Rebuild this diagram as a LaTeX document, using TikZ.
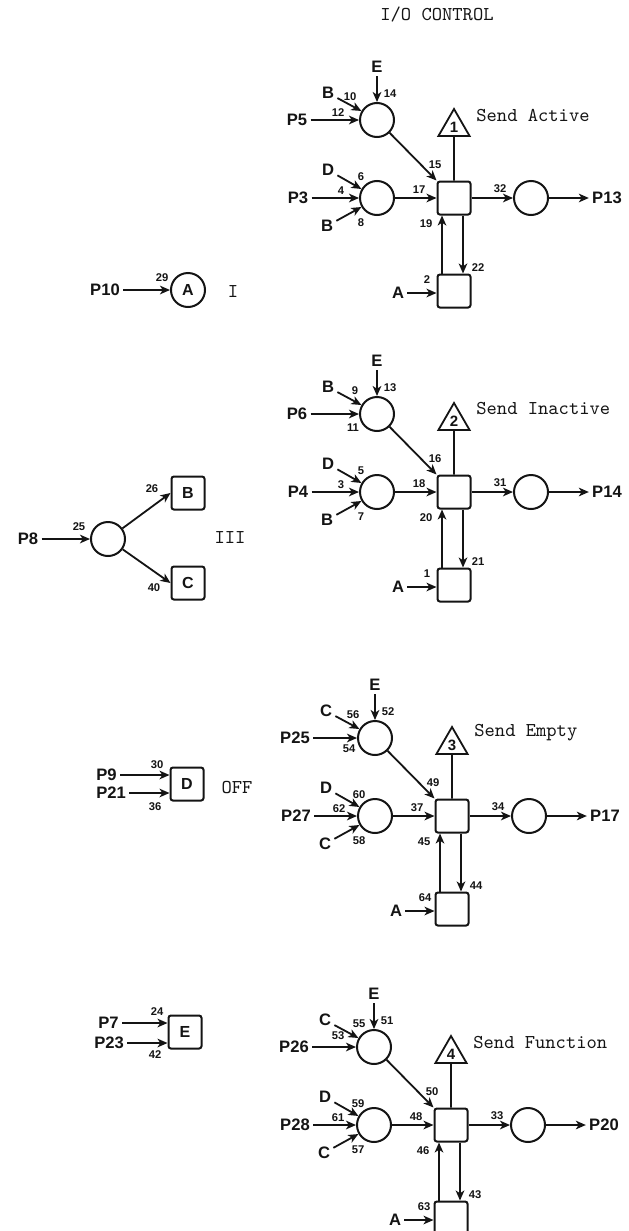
\documentclass[tikz,border=0pt]{standalone}
\usepackage{fontspec}
\setsansfont{Liberation Sans}
\usepackage{tikz}
\usetikzlibrary{arrows.meta,shapes.geometric}
\definecolor{ink}{HTML}{141414}
\definecolor{paper}{HTML}{FFFFFF}

\tikzset{
  place/.style={circle,draw=ink,line width=1pt,minimum size=17pt,inner sep=0pt,text=ink,font=\sffamily\bfseries\fontsize{8}{8}\selectfont},
  trans/.style={rectangle,draw=ink,line width=1pt,rounded corners=1.2pt,minimum size=16.5pt,inner sep=0pt,text=ink,font=\sffamily\bfseries\fontsize{8}{8}\selectfont},
  flag/.style={regular polygon,regular polygon sides=3,draw=ink,line width=0.9pt,minimum size=18pt,inner sep=0pt,text=ink,font=\sffamily\bfseries\fontsize{7.5}{7.5}\selectfont},
  lbl/.style={inner sep=1.5pt,text=ink,font=\sffamily\bfseries\fontsize{8.3}{8.3}\selectfont},
  num/.style={inner sep=0pt,text=ink,font=\sffamily\bfseries\fontsize{5.6}{5.6}\selectfont},
  typed/.style={inner sep=0pt,text=ink,font=\ttfamily\fontsize{9.8}{9.8}\selectfont},
  flow/.style={draw=ink,line width=0.9pt,-{Stealth[length=5pt,width=4.3pt,inset=1.4pt]}},
  wire/.style={draw=ink,line width=0.9pt}
}

\begin{document}
\begin{tikzpicture}[x=0.5pt,y=-0.5pt]
  \fill[paper] (0,0) rectangle (628,1231);
  \useasboundingbox (0,0) rectangle (628,1231);
  \node[typed] (head) at (437,15) {I/O CONTROL};
  \foreach \x/\y/\k/\ttl/\pup/\plo/\pout/\upr/\lwr/\nlu/\nxl/\npu/\nxu/\nyu/\nE/\nD/\npl/\nll/\nin/\ndg/\nout/\nup/\ndn/\nA in {
      454/198/1/Send Active/P5/P3/P13/B/B/10/-104/12/-116/-85/14/6/4/8/17/15/32/19/22/2,
      454/492/2/Send Inactive/P6/P4/P14/B/B/9/-99/11/-101/-64/13/5/3/7/18/16/31/20/21/1,
      452/816/3/Send Empty/P25/P27/P17/C/C/56/-99/54/-103/-67/52/60/62/58/37/49/34/45/44/64,
      451/1125/4/Send Function/P26/P28/P20/C/C/55/-92/53/-113/-89/51/59/61/57/48/50/33/46/43/63}{
    \begin{scope}[shift={(\x,\y)}]
      \node[trans] (sq\k) at (0,0) {};
      \node[place] (cu\k) at (-77,-78) {};
      \node[place] (cl\k) at (-77,0) {};
      \node[place] (co\k) at (77,0) {};
      \node[flag] (tri\k) at (0,-71) {\k};
      \node[trans] (bq\k) at (0,93) {};
      \node[typed,anchor=west] (ttl\k) at (22,-83) {\ttl};
      \node[lbl] (E\k) at (-77,-131) {E};
      \node[lbl] (pu\k) at (-157,-78) {\pup};
      \node[lbl] (up\k) at (-126,-105) {\upr};
      \node[lbl] (D\k) at (-126,-28) {D};
      \node[lbl] (pl\k) at (-156,0) {\plo};
      \node[lbl] (lw\k) at (-127,28) {\lwr};
      \node[lbl] (A\k) at (-56,95) {A};
      \node[lbl] (po\k) at (153,0) {\pout};
      \node[num] (n\nlu) at (\nxl,-101) {\nlu};
      \node[num] (n\npu) at (\nxu,\nyu) {\npu};
      \node[num] (n\nE) at (-64,-104) {\nE};
      \node[num] (n\nD) at (-93,-21) {\nD};
      \node[num] (n\npl) at (-113,-7) {\npl};
      \node[num] (n\nll) at (-93,25) {\nll};
      \node[num] (n\nin) at (-35,-8) {\nin};
      \node[num] (n\ndg) at (-19,-33) {\ndg};
      \node[num] (n\nout) at (46,-9) {\nout};
      \node[num] (n\nup) at (-28,26) {\nup};
      \node[num] (n\ndn) at (24,70) {\ndn};
      \node[num] (n\nA) at (-27,82) {\nA};
      \draw[flow] (E\k) -- (cu\k);
      \draw[flow] (pu\k) -- (cu\k);
      \draw[flow] (up\k) -- (cu\k.150);
      \draw[flow] (D\k) -- (cl\k.150);
      \draw[flow] (pl\k) -- (cl\k);
      \draw[flow] (lw\k) -- (cl\k.210);
      \draw[flow] (cl\k) -- (sq\k);
      \draw[flow] (cu\k) -- (sq\k.north west);
      \draw[wire] (sq\k) -- (tri\k);
      \draw[flow] (sq\k) -- (co\k);
      \draw[flow] (co\k) -- (po\k);
      \draw[flow] ([xshift=-6pt]bq\k.north) -- ([xshift=-6pt]sq\k.south);
      \draw[flow] ([xshift=4.5pt]sq\k.south) -- ([xshift=4.5pt]bq\k.north);
      \draw[flow] (A\k) -- (A\k -| bq\k.west);
    \end{scope}
  }
  \node[lbl] (p10) at (105,290) {P10};
  \node[place] (ca) at (188,290) {A};
  \node[num] (n29) at (162,278) {29};
  \node[typed] (r1) at (233,292) {I};
  \draw[flow] (p10) -- (ca);
  \node[lbl] (p8) at (28,539) {P8};
  \node[place] (c8) at (108,539) {};
  \node[trans] (bb) at (188,493) {B};
  \node[trans] (bc) at (188,583) {C};
  \node[num] (n25) at (79,527) {25};
  \node[num] (n26) at (152,489) {26};
  \node[num] (n40) at (154,588) {40};
  \node[typed] (r3) at (230,538) {III};
  \draw[flow] (p8) -- (c8);
  \draw[flow] (c8) -- (bb.west);
  \draw[flow] (c8) -- (bc.west);
  \node[trans] (bd) at (187,784) {D};
  \node[lbl,anchor=west] (p9) at (93,775) {P9};
  \node[lbl,anchor=west] (p21) at (93,793) {P21};
  \node[num] (n30) at (157,765) {30};
  \node[num] (n36) at (155,807) {36};
  \node[typed] (off) at (237,788) {OFF};
  \draw[flow] (p9) -- (p9 -| bd.west);
  \draw[flow] (p21) -- (p21 -| bd.west);
  \node[trans] (be) at (185,1032) {E};
  \node[lbl,anchor=west] (p7) at (95,1023) {P7};
  \node[lbl,anchor=west] (p23) at (91,1043) {P23};
  \node[num] (n24) at (157,1012) {24};
  \node[num] (n42) at (155,1055) {42};
  \draw[flow] (p7) -- (p7 -| be.west);
  \draw[flow] (p23) -- (p23 -| be.west);
\end{tikzpicture}
\end{document}
